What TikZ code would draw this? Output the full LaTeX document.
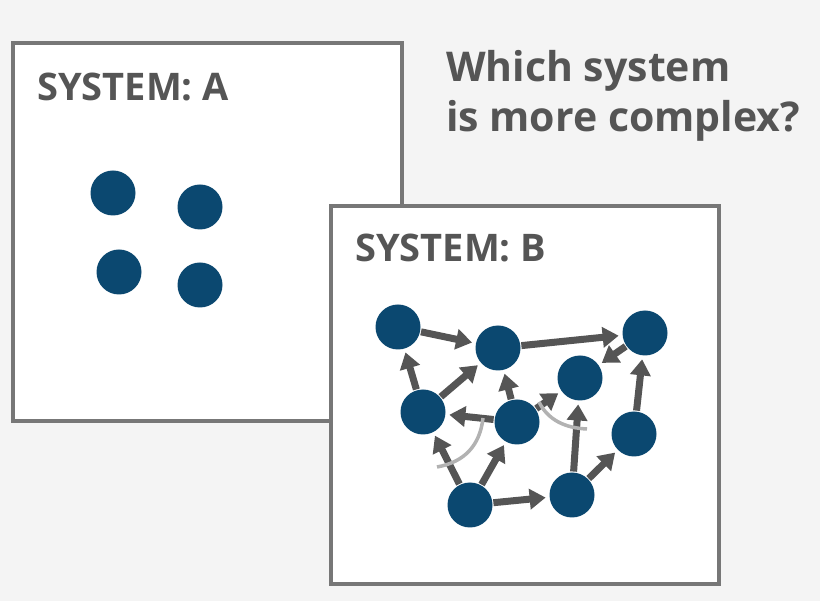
\documentclass[tikz,border=0pt]{standalone}
\usepackage{fontspec}
\setmainfont{Open Sans}
\usetikzlibrary{arrows.meta}
\definecolor{nd}{HTML}{0B4870}
\definecolor{fr}{HTML}{777777}
\definecolor{tx}{HTML}{555555}
\definecolor{bg}{HTML}{F4F4F4}
\begin{document}
\begin{tikzpicture}[x=1pt,y=-1pt,
  dot/.style={circle,fill=nd,minimum size=45pt,inner sep=0pt,outer sep=1pt},
  box/.style={draw=fr,line width=4pt,fill=white},
  lbl/.style={font=\bfseries\fontsize{38}{40}\selectfont,text=tx,anchor=west,inner sep=0pt},
  ar/.style={draw=tx,line width=7pt,-{Triangle[width=20pt,length=16pt]},shorten >=3pt},
  arc/.style={draw=gray!60,line width=3.5pt}]
\fill[bg] (0,0) rectangle (820,601);
\useasboundingbox (0,0) rectangle (820,601);
\draw[box] (13,43) rectangle (402,421);
\node[lbl] (la) at (37,87) {SYSTEM: A};
\node[dot] (a1) at (113,193) {};
\node[dot] (a2) at (200,207) {};
\node[dot] (a3) at (119,272) {};
\node[dot] (a4) at (200,285) {};
\node[font=\bfseries\fontsize{41}{50}\selectfont,text=tx,align=left,anchor=north west,inner sep=0pt] (q) at (446,50) {Which system\\is more complex?};
\draw[box] (331,206) rectangle (719,584);
\node[lbl] (lb) at (355,248) {SYSTEM: B};
\node[dot] (n1) at (398,327) {};
\node[dot] (n2) at (498,348) {};
\node[dot] (n3) at (645,333) {};
\node[dot] (n4) at (580,378) {};
\node[dot] (n5) at (423,412) {};
\node[dot] (n6) at (517,422) {};
\node[dot] (n7) at (634,434) {};
\node[dot] (n8) at (470,505) {};
\node[dot] (n9) at (572,495) {};
\foreach \a/\b in {n1/n2,n2/n3,n3/n4,n5/n1,n5/n2,n6/n2,n6/n5,n6/n4,n8/n5,n8/n6,n8/n9,n9/n4,n9/n7,n7/n3}
  \draw[ar] (\a) -- (\b);
\draw[arc] (483,418) .. controls (480,445) and (465,462) .. (437,467);
\draw[arc] (539,402) .. controls (548,420) and (565,428) .. (587,429);
\end{tikzpicture}
\end{document}
